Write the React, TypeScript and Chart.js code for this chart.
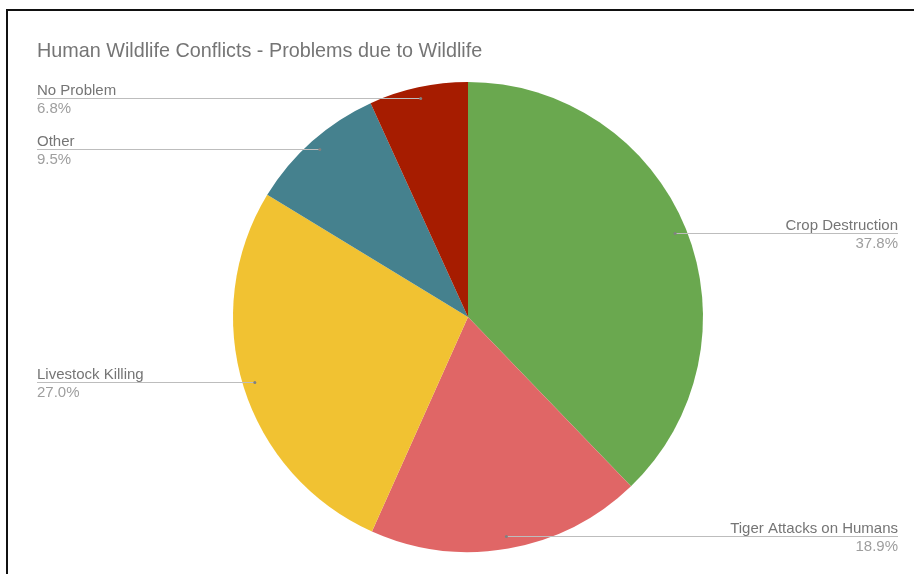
import React, { useEffect, useRef } from "react";
import { Chart, registerables } from "chart.js";

Chart.register(...registerables);

const title = "Human Wildlife Conflicts - Problems due to Wildlife";
const categories = ["Crop Destruction", "Tiger Attacks on Humans", "Livestock Killing", "Other", "No Problem"];
const values = [37.8, 18.9, 27.0, 9.5, 6.8];
const colors = ["#6aa84f", "#e06666", "#f1c232", "#45818e", "#a61c00"];

const FONT = "'Liberation Sans', Arial, sans-serif";

const labelPlugin = {
  id: "sheetLabels",
  afterDraw(chart: any) {
    const ctx = chart.ctx as CanvasRenderingContext2D;
    const meta = chart.getDatasetMeta(0);
    const total = values.reduce((a, b) => a + b, 0);
    ctx.save();
    ctx.font = "19.8px " + FONT;
    ctx.fillStyle = "#757575";
    ctx.textAlign = "left";
    ctx.textBaseline = "alphabetic";
    ctx.fillText(title, 37, 57);
    const leftX = 37;
    const rightX = 898;
    meta.data.forEach((arc: any, i: number) => {
      const { x, y, startAngle, endAngle, outerRadius } = arc.getProps(
        ["x", "y", "startAngle", "endAngle", "outerRadius"],
        true
      );
      const mid = (startAngle + endAngle) / 2;
      const r = outerRadius * 0.95;
      const dx = x + Math.cos(mid) * r;
      const dy = y + Math.sin(mid) * r;
      const isLeft = dx < x;
      const ly = Math.round(dy) - 1;
      ctx.strokeStyle = "#bdbdbd";
      ctx.lineWidth = 1;
      ctx.beginPath();
      if (isLeft) {
        ctx.moveTo(leftX, ly + 0.5);
        ctx.lineTo(dx, ly + 0.5);
      } else {
        ctx.moveTo(dx, ly + 0.5);
        ctx.lineTo(rightX, ly + 0.5);
      }
      ctx.stroke();
      ctx.fillStyle = "#808080";
      ctx.beginPath();
      ctx.arc(dx, ly + 0.5, 1.5, 0, Math.PI * 2);
      ctx.fill();
      ctx.font = "15px " + FONT;
      ctx.textAlign = isLeft ? "left" : "right";
      const tx = isLeft ? leftX : rightX;
      ctx.fillStyle = "#757575";
      ctx.fillText(categories[i], tx, ly - 3);
      ctx.fillStyle = "#9e9e9e";
      const pct = ((values[i] / total) * 100).toFixed(1) + "%";
      ctx.fillText(pct, tx, ly + 15);
    });
    ctx.restore();
  },
};

export default function App() {
  const ref = useRef<HTMLCanvasElement | null>(null);
  useEffect(() => {
    document.body.style.margin = "0";
    const chart = new Chart(ref.current as HTMLCanvasElement, {
      type: "pie",
      data: {
        labels: categories,
        datasets: [
          {
            data: values,
            backgroundColor: colors,
            borderWidth: 0,
          },
        ],
      },
      options: {
        responsive: false,
        animation: false,
        layout: { padding: { left: 100, right: 78, top: 82, bottom: 22 } },
        plugins: {
          legend: { display: false },
          tooltip: { enabled: false },
          title: { display: false },
        },
      },
      plugins: [labelPlugin],
    });
    return () => chart.destroy();
  }, []);
  return (
    <div style={{ position: "relative", width: 914, height: 574, background: "#fff", overflow: "hidden" }}>
      <div
        style={{
          position: "absolute",
          left: 6,
          top: 9,
          width: 1000,
          height: 1000,
          borderLeft: "2px solid #111",
          borderTop: "2px solid #111",
        }}
      />
      <canvas ref={ref} width={914} height={574} style={{ position: "absolute", left: 0, top: 0 }} />
    </div>
  );
}
